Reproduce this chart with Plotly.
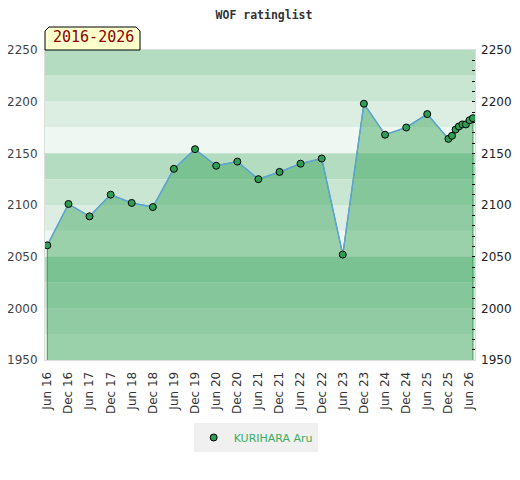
import plotly.graph_objects as go

# rating list dates and values
DATES = [
    "2016-06-01", "2016-12-01", "2017-06-01", "2017-12-01", "2018-06-01",
    "2018-12-01", "2019-06-01", "2019-12-01", "2020-06-01", "2020-12-01",
    "2021-06-01", "2021-12-01", "2022-06-01", "2022-12-01", "2023-06-01",
    "2023-12-01", "2024-06-01", "2024-12-01", "2025-06-01", "2025-12-01",
    "2026-01-01", "2026-02-01", "2026-03-01", "2026-04-01", "2026-05-01",
    "2026-06-01", "2026-07-01",
]
RATINGS = [
    2061, 2101, 2089, 2110, 2102,
    2098, 2135, 2154, 2138, 2142,
    2125, 2132, 2140, 2145, 2052,
    2198, 2168, 2175, 2188, 2164,
    2167, 2173, 2176, 2178, 2178,
    2182, 2184,
]
PLAYER = "KURIHARA Aru"
PERIOD = "2016-2026"

Y_MIN, Y_MAX = 1950, 2250
BAND = 25
# colours repeat every 100 points, from the top of each 100 down
BAND_COLORS = ['#b3dcc0', '#c8e6d2', '#dcede2', '#eef7f1']

FONT = 'DejaVu Sans'
MONO = 'DejaVu Sans Mono'

fig = go.Figure()

# background bands
shapes = []
top = Y_MAX
i = 0
while top > Y_MIN:
    shapes.append(dict(
        type='rect', xref='paper', x0=0, x1=1, yref='y', y0=top - BAND, y1=top,
        fillcolor=BAND_COLORS[i % 4], line=dict(width=0), layer='below'
    ))
    top -= BAND
    i += 1

# label box with cut top corners
shapes.append(dict(
    type='path', xref='paper', yref='paper', xsizemode='pixel', ysizemode='pixel',
    xanchor=0, yanchor=1,
    path='M 0 0 L 0 19 L 4 23 L 91 23 L 95 19 L 95 0 Z',
    fillcolor='#ffffcc', line=dict(color='#000000', width=1), layer='above'
))

# filled area under the rating line
fig.add_trace(go.Scatter(
    x=[DATES[0]] + DATES + [DATES[-1]],
    y=[Y_MIN] + RATINGS + [Y_MIN],
    mode='lines', fill='toself', fillcolor='rgba(55,164,89,0.46)',
    line=dict(color='#3a9e5a', width=1), showlegend=False, hoverinfo='skip'
))

fig.add_trace(go.Scatter(
    x=DATES, y=RATINGS, mode='lines',
    line=dict(color='#5ea3d6', width=1.5), showlegend=False, hoverinfo='skip'
))

fig.add_trace(go.Scatter(
    x=DATES, y=RATINGS, mode='markers', name=PLAYER,
    marker=dict(color='#2e9e55', size=7, line=dict(color='#000000', width=1)),
))

# dummy trace to activate the right axis
fig.add_trace(go.Scatter(
    x=DATES[:1], y=RATINGS[:1], yaxis='y2', mode='markers',
    marker=dict(opacity=0), showlegend=False, hoverinfo='skip'
))

fig.update_layout(
    width=512, height=472,
    margin=dict(l=37, r=45, t=42, b=120),
    paper_bgcolor='white', plot_bgcolor='white',
    title=dict(text='<b>WOF ratinglist</b>', x=0.5, xanchor='center',
               y=0.985, yanchor='middle',
               font=dict(family=MONO, size=11.5, color='#333333')),
    shapes=shapes,
    annotations=[dict(
        text=PERIOD, xref='paper', yref='paper', x=0, y=1,
        xanchor='left', yanchor='bottom', xshift=6, yshift=2, showarrow=False,
        font=dict(family=MONO, size=15, color='#8b0000')
    )],
    xaxis=dict(
        type='date', range=['2016-05-12', '2026-07-19'],
        tick0='2016-06-01', dtick='M6', tickformat='%b %y', tickangle=-90,
        showgrid=False, zeroline=False, ticks='', ticklabelstandoff=6,
        showline=True, linecolor='#dddddd', linewidth=1, mirror=True,
        tickfont=dict(family=FONT, size=12, color='#333333'), automargin=False,
    ),
    yaxis=dict(
        range=[Y_MIN, Y_MAX], dtick=50, showgrid=False, zeroline=False,
        showline=True, linecolor='#dddddd', linewidth=1, mirror=True,
        ticks='', ticklabelstandoff=4, automargin=False,
        tickfont=dict(family=FONT, size=12, color='#444444'),
    ),
    yaxis2=dict(
        range=[Y_MIN, Y_MAX], dtick=50, overlaying='y', side='right',
        showgrid=False, zeroline=False, ticks='inside', ticklen=3,
        tickcolor='#000000', ticklabelstandoff=5, automargin=False,
        minor=dict(dtick=10, ticks='inside', ticklen=3, tickcolor='#000000'),
        tickfont=dict(family=FONT, size=12, color='#222222'),
    ),
    legend=dict(
        orientation='h', x=0.49, xanchor='center', y=-0.25, yanchor='middle',
        bgcolor='#f0f0f0', itemwidth=30,
        font=dict(family=FONT, size=11, color='#3cae62'),
    ),
)

fig.write_html("out.html")
